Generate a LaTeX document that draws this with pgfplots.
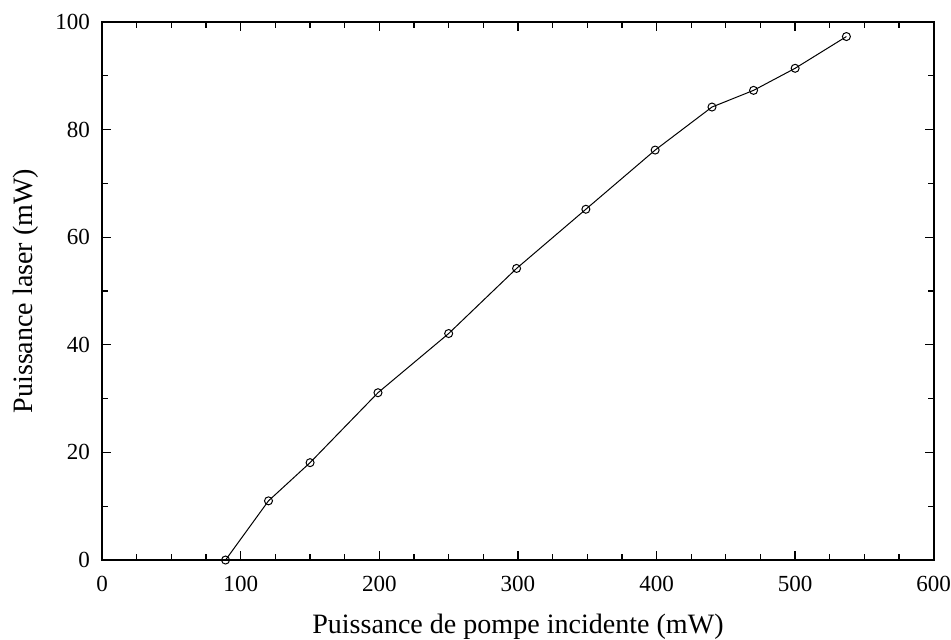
\documentclass[border=0pt]{standalone}
\usepackage{pgfplots}
\pgfplotsset{compat=1.18}
\usepackage{fontspec}
\setmainfont{Liberation Serif}
\begin{document}
\begin{tikzpicture}
\begin{axis}[
    scale only axis,
    width=830pt, height=537pt,
    xmin=0, xmax=600, ymin=0, ymax=100,
    xtick={0,100,...,600}, ytick={0,20,...,100},
    minor x tick num=3, minor y tick num=1,
    tick align=inside,
    major tick length=9pt, minor tick length=6pt,
    every tick/.style={black, line width=1.3pt},
    axis line style={line width=2pt},
    /pgf/number format/assume math mode=true,
    tick label style={font=\fontsize{23}{26}\selectfont, inner sep=0pt},
    xticklabel style={yshift=-16pt},
    yticklabel style={xshift=-12pt},
    label style={font=\fontsize{28}{32}\selectfont, inner sep=0pt},
    xlabel={Puissance de pompe incidente (mW)},
    ylabel={Puissance laser (mW)},
    xlabel style={yshift=-22pt},
    ylabel style={yshift=17pt},
]
\addplot[black, line width=1pt, mark=o, mark size=4pt, mark options={line width=1pt, fill=white}]
coordinates {
(89,0) (120,11.0) (150,18.1) (199,31.1) (250,42.1) (299,54.2) (349,65.2)
(399,76.2) (440,84.2) (470,87.3) (500,91.4) (537,97.3)
};
\end{axis}
\path ([yshift=22pt]current axis.north west);
\path ([xshift=-102pt,yshift=-77pt]current axis.south west);
\end{tikzpicture}
\end{document}
